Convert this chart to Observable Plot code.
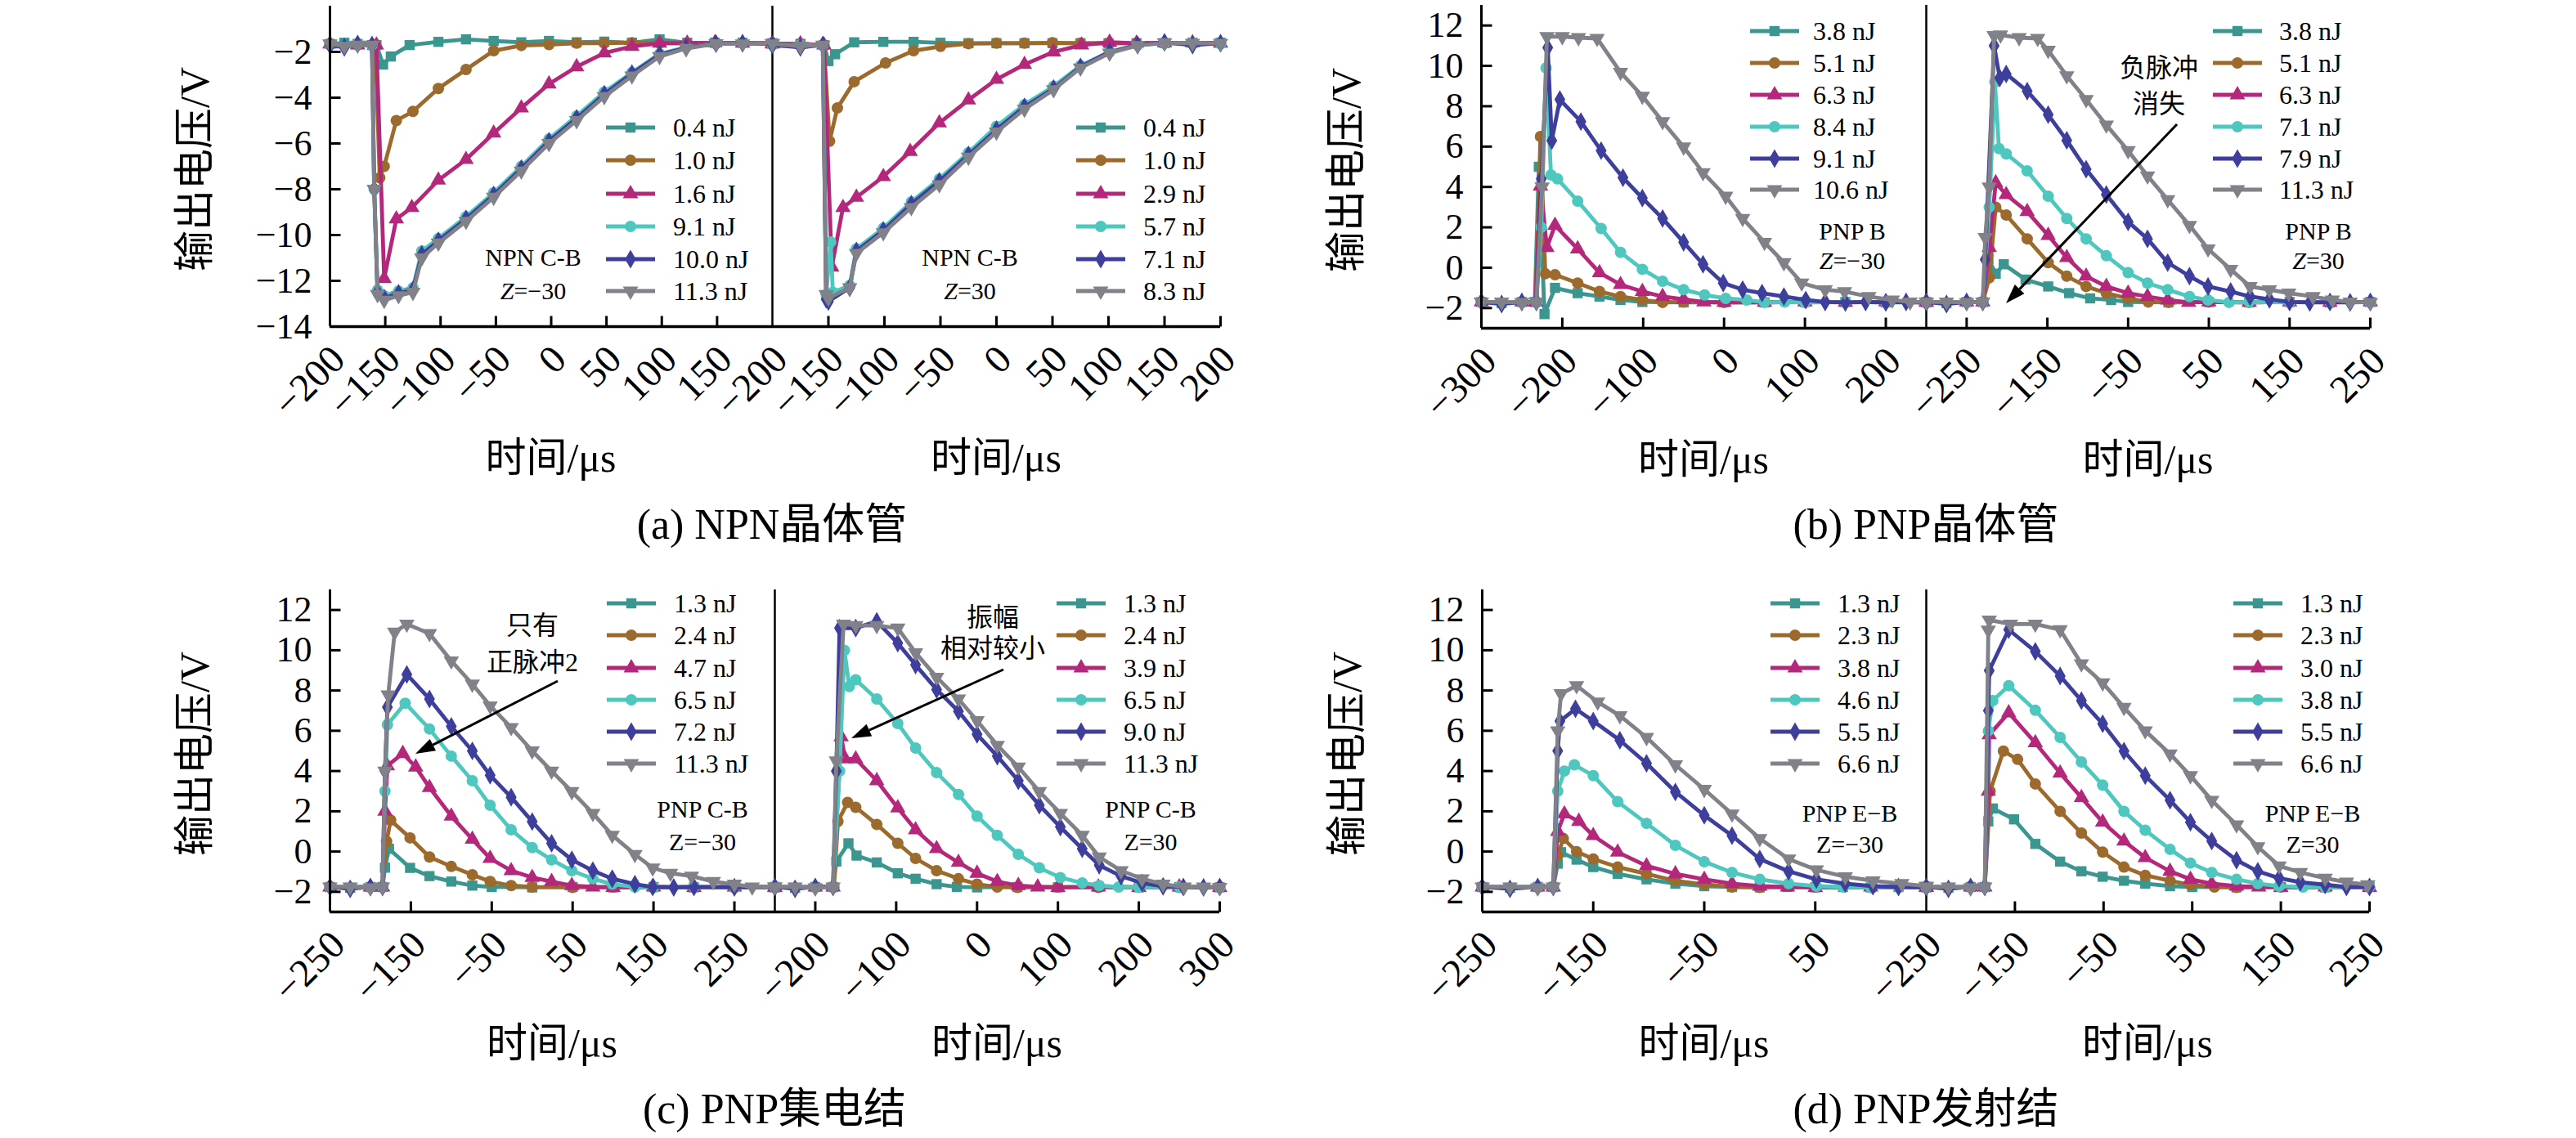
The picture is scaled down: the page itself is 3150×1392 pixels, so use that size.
<!DOCTYPE html>
<html><head><meta charset="utf-8">
<script src="https://cdn.jsdelivr.net/npm/d3@7"></script>
<script src="https://cdn.jsdelivr.net/npm/@observablehq/plot@0.6"></script>
<style>
body{margin:0;background:#fff}
#page{position:relative;width:3150px;height:1392px;background:#fff;overflow:hidden;font-family:"Liberation Serif","Times New Roman","Noto Sans CJK SC",serif;color:#000}
.abs{position:absolute;white-space:nowrap;line-height:1}
.cjk{font-family:"Liberation Serif","Noto Sans CJK SC",serif}
</style></head><body><div id="page"></div>
<script>
// ---------------- DATA ----------------
// (a) NPN, Z=-30
const aLeftLabels = ["0.4 nJ","1.0 nJ","1.6 nJ","9.1 nJ","10.0 nJ","11.3 nJ"];
const aLeftSeries = [
 [[-200,-1.65],[-187,-1.6],[-175,-1.65],[-162,-1.7],[-158,-1.7],[-152,-2.55],[-145,-2.2],[-128,-1.7],[-102,-1.56],[-77,-1.45],[-52,-1.52],[-27,-1.58],[-2,-1.52],[23,-1.58],[48,-1.55],[73,-1.6],[98,-1.45],[123,-1.6],[148,-1.6],[173,-1.6],[200,-1.62]],
 [[-200,-1.65],[-175,-1.7],[-159,-1.7],[-155,-7.5],[-151,-7.0],[-140,-5.0],[-125,-4.6],[-102,-3.6],[-77,-2.77],[-52,-1.95],[-27,-1.72],[-2,-1.68],[23,-1.62],[48,-1.62],[73,-1.6],[98,-1.62],[123,-1.62],[148,-1.62],[173,-1.62],[200,-1.62]],
 [[-200,-1.65],[-175,-1.7],[-158,-1.7],[-151,-11.9],[-140,-9.3],[-126,-8.8],[-102,-7.6],[-77,-6.7],[-52,-5.55],[-27,-4.45],[-2,-3.4],[23,-2.65],[48,-2.05],[73,-1.76],[98,-1.62],[123,-1.62],[148,-1.6],[173,-1.62],[200,-1.62]],
 [[-200,-1.7],[-175,-1.65],[-162,-1.7],[-160,-8.0],[-157,-12.4],[-151,-12.65],[-138,-12.45],[-125,-12.3],[-117,-10.7],[-102,-10.15],[-77,-9.2],[-52,-8.15],[-27,-7.0],[-2,-5.8],[23,-4.8],[48,-3.75],[73,-2.9],[98,-2.08],[122,-1.8],[149,-1.64],[173,-1.62],[200,-1.65]],
 [[-200,-1.7],[-187,-1.8],[-175,-1.65],[-162,-1.7],[-160,-8.0],[-157,-12.5],[-151,-12.75],[-138,-12.55],[-125,-12.4],[-117,-10.85],[-102,-10.25],[-77,-9.3],[-52,-8.25],[-27,-7.1],[-2,-5.9],[23,-4.9],[48,-3.85],[73,-2.95],[98,-2.12],[122,-1.82],[149,-1.64],[173,-1.62],[200,-1.65]],
 [[-200,-1.65],[-187,-1.75],[-175,-1.7],[-162,-1.7],[-160,-8.0],[-157,-12.6],[-151,-12.85],[-138,-12.65],[-125,-12.5],[-117,-11.0],[-102,-10.35],[-77,-9.4],[-52,-8.35],[-27,-7.2],[-2,-6.0],[23,-5.0],[48,-3.95],[73,-3.05],[98,-2.2],[122,-1.85],[149,-1.64],[173,-1.65],[200,-1.62]]
];
// (a) NPN, Z=30
const aRightLabels = ["0.4 nJ","1.0 nJ","2.9 nJ","5.7 nJ","7.1 nJ","8.3 nJ"];
const aRightSeries = [
 [[-200,-1.65],[-175,-1.65],[-154,-1.7],[-150,-2.4],[-144,-2.1],[-127,-1.58],[-101,-1.56],[-74,-1.56],[-50,-1.6],[-25,-1.62],[0,-1.62],[25,-1.62],[50,-1.62],[75,-1.62],[100,-1.62],[125,-1.62],[150,-1.62],[175,-1.6],[200,-1.6]],
 [[-200,-1.65],[-175,-1.65],[-154,-1.7],[-149,-5.9],[-142,-4.45],[-127,-3.3],[-99,-2.48],[-74,-1.95],[-50,-1.76],[-25,-1.64],[0,-1.62],[25,-1.62],[50,-1.6],[75,-1.62],[100,-1.62],[125,-1.62],[150,-1.62],[175,-1.62],[200,-1.62]],
 [[-200,-1.65],[-175,-1.65],[-154,-1.7],[-147,-11.4],[-137,-8.8],[-125,-8.35],[-101,-7.45],[-77,-6.35],[-51,-5.1],[-25,-4.1],[0,-3.2],[25,-2.55],[51,-2.0],[76,-1.7],[101,-1.58],[125,-1.62],[150,-1.6],[175,-1.6],[200,-1.62]],
 [[-200,-1.7],[-175,-1.7],[-155,-1.7],[-152,-12.6],[-148,-10.3],[-146,-12.5],[-131,-12.2],[-125,-10.6],[-101,-9.7],[-76,-8.55],[-51,-7.55],[-25,-6.4],[0,-5.25],[25,-4.3],[51,-3.5],[75,-2.6],[101,-2.0],[126,-1.7],[150,-1.62],[175,-1.62],[200,-1.65]],
 [[-200,-1.7],[-175,-1.8],[-155,-1.7],[-152,-12.8],[-150,-12.9],[-131,-12.3],[-125,-10.7],[-101,-9.8],[-76,-8.65],[-51,-7.65],[-25,-6.5],[0,-5.4],[25,-4.4],[51,-3.6],[75,-2.65],[101,-2.0],[126,-1.7],[150,-1.58],[175,-1.7],[200,-1.62]],
 [[-200,-1.65],[-175,-1.75],[-155,-1.7],[-152,-12.6],[-150,-12.75],[-131,-12.3],[-125,-10.8],[-101,-9.9],[-76,-8.8],[-51,-7.8],[-25,-6.6],[0,-5.5],[25,-4.5],[51,-3.65],[75,-2.7],[101,-2.05],[126,-1.72],[150,-1.6],[175,-1.62],[200,-1.62]]
];
// (b) PNP B, Z=-30
const bLeftLabels = ["3.8 nJ","5.1 nJ","6.3 nJ","8.4 nJ","9.1 nJ","10.6 nJ"];
const bLeftSeries = [
 [[-300,-1.7],[-275,-1.75],[-250,-1.7],[-234,-1.7],[-229,5.0],[-222,-2.3],[-209,-1.0],[-181,-1.26],[-154,-1.43],[-128,-1.6],[-101,-1.7],[-50,-1.72],[0,-1.72],[50,-1.72],[100,-1.7],[150,-1.7],[200,-1.72],[250,-1.72]],
 [[-300,-1.7],[-250,-1.7],[-233,-1.7],[-227,6.5],[-221,-0.3],[-209,-0.35],[-181,-0.76],[-154,-1.18],[-128,-1.43],[-101,-1.6],[-76,-1.72],[-50,-1.7],[0,-1.72],[50,-1.7],[100,-1.72],[150,-1.7],[200,-1.7],[250,-1.72]],
 [[-300,-1.7],[-250,-1.7],[-233,-1.7],[-227,4.05],[-219,1.0],[-209,2.1],[-181,0.93],[-154,-0.25],[-128,-0.84],[-101,-1.18],[-76,-1.43],[-50,-1.57],[-25,-1.7],[0,-1.72],[50,-1.72],[100,-1.7],[150,-1.72],[200,-1.7],[250,-1.72]],
 [[-300,-1.7],[-250,-1.7],[-232,-1.7],[-226,2.0],[-220,9.9],[-214,4.6],[-206,4.4],[-181,3.3],[-152,1.94],[-128,0.76],[-101,-0.08],[-76,-0.67],[-50,-1.09],[-24,-1.35],[2,-1.52],[28,-1.6],[50,-1.72],[75,-1.7],[100,-1.72],[150,-1.7],[200,-1.72],[250,-1.7]],
 [[-300,-1.7],[-275,-1.8],[-250,-1.7],[-232,-1.7],[-226,4.4],[-218,10.9],[-213,6.3],[-203,8.33],[-177,7.24],[-152,5.8],[-125,4.46],[-101,3.45],[-76,2.44],[-50,1.26],[-26,0.17],[-1,-0.76],[23,-1.09],[47,-1.26],[74,-1.43],[101,-1.6],[125,-1.7],[150,-1.72],[175,-1.7],[200,-1.72],[225,-1.7],[250,-1.72]],
 [[-300,-1.7],[-275,-1.7],[-250,-1.72],[-232,-1.7],[-225,4.0],[-219,11.45],[-200,11.45],[-180,11.4],[-157,11.36],[-128,9.68],[-101,8.5],[-76,7.24],[-50,5.98],[-26,4.71],[2,3.54],[23,2.44],[50,1.26],[74,0.25],[96,-0.76],[125,-1.09],[149,-1.18],[179,-1.43],[208,-1.6],[230,-1.7],[250,-1.7]]
];
// (b) PNP B, Z=30
const bRightLabels = ["3.8 nJ","5.1 nJ","6.3 nJ","7.1 nJ","7.9 nJ","11.3 nJ"];
const bRightSeries = [
 [[-300,-1.7],[-275,-1.75],[-250,-1.7],[-230,-1.7],[-223,0.42],[-214,-0.3],[-204,0.17],[-177,-0.59],[-149,-0.93],[-123,-1.26],[-97,-1.52],[-71,-1.6],[-50,-1.7],[0,-1.72],[50,-1.7],[100,-1.72],[150,-1.7],[200,-1.72],[250,-1.7]],
 [[-300,-1.7],[-250,-1.7],[-230,-1.7],[-222,-0.5],[-214,3.0],[-201,2.61],[-175,1.43],[-149,0.25],[-126,-0.42],[-102,-0.93],[-77,-1.26],[-50,-1.52],[-25,-1.7],[0,-1.72],[50,-1.7],[100,-1.72],[150,-1.7],[200,-1.72],[250,-1.7]],
 [[-300,-1.7],[-250,-1.7],[-230,-1.7],[-222,1.0],[-214,4.2],[-201,3.62],[-175,2.78],[-149,1.6],[-126,0.5],[-102,-0.42],[-77,-0.93],[-50,-1.26],[-26,-1.43],[-1,-1.6],[25,-1.72],[50,-1.7],[100,-1.72],[150,-1.7],[200,-1.72],[250,-1.7]],
 [[-300,-1.7],[-250,-1.7],[-230,-1.7],[-222,3.0],[-215,9.2],[-210,5.9],[-201,5.64],[-175,4.8],[-149,3.54],[-126,2.44],[-102,1.43],[-77,0.59],[-50,-0.25],[-26,-0.76],[-1,-1.09],[26,-1.43],[49,-1.6],[75,-1.72],[100,-1.7],[150,-1.72],[200,-1.7],[250,-1.72]],
 [[-300,-1.7],[-275,-1.8],[-250,-1.7],[-230,-1.7],[-227,0.4],[-216,11.0],[-209,9.4],[-201,9.6],[-175,8.75],[-149,7.58],[-126,6.31],[-102,4.88],[-77,3.62],[-50,2.27],[-26,1.43],[-1,0.25],[26,-0.42],[49,-0.93],[77,-1.18],[101,-1.43],[125,-1.57],[150,-1.7],[175,-1.72],[200,-1.7],[225,-1.72],[250,-1.7]],
 [[-300,-1.7],[-275,-1.7],[-250,-1.72],[-230,-1.7],[-227,1.5],[-222,4.0],[-216,11.5],[-208,11.53],[-185,11.4],[-162,11.36],[-149,10.77],[-126,9.51],[-102,8.33],[-77,7.07],[-50,5.8],[-26,4.55],[-1,3.37],[26,2.1],[49,0.93],[77,-0.08],[101,-0.93],[125,-1.09],[149,-1.26],[179,-1.43],[203,-1.6],[225,-1.7],[250,-1.72]]
];
// (c) PNP C-B, Z=-30
const cLeftLabels = ["1.3 nJ","2.4 nJ","4.7 nJ","6.5 nJ","7.2 nJ","11.3 nJ"];
const cLeftSeries = [
 [[-250,-1.76],[-225,-1.8],[-200,-1.76],[-185,-1.76],[-182,-0.8],[-177,0.14],[-151,-0.81],[-127,-1.22],[-100,-1.49],[-74,-1.69],[-50,-1.76],[0,-1.78],[50,-1.76],[100,-1.78],[150,-1.76],[200,-1.78],[250,-1.76],[300,-1.78]],
 [[-250,-1.76],[-200,-1.76],[-185,-1.76],[-180,0.5],[-175,1.56],[-151,0.68],[-127,-0.27],[-100,-0.74],[-74,-1.15],[-52,-1.49],[-26,-1.69],[0,-1.76],[50,-1.78],[100,-1.76],[150,-1.78],[200,-1.76],[250,-1.78],[300,-1.76]],
 [[-250,-1.76],[-200,-1.76],[-185,-1.76],[-182,2.0],[-179,4.26],[-160,4.87],[-144,4.2],[-127,3.18],[-100,1.76],[-74,0.61],[-52,-0.34],[-26,-0.95],[0,-1.29],[24,-1.49],[49,-1.69],[75,-1.76],[100,-1.78],[150,-1.76],[200,-1.78],[250,-1.76],[300,-1.78]],
 [[-250,-1.76],[-200,-1.76],[-185,-1.76],[-182,3.0],[-179,6.3],[-157,7.37],[-127,6.09],[-100,4.74],[-74,3.52],[-52,2.3],[-26,1.08],[0,0.2],[24,-0.41],[49,-0.95],[75,-1.35],[99,-1.62],[127,-1.76],[150,-1.78],[200,-1.76],[250,-1.78],[300,-1.76]],
 [[-250,-1.76],[-225,-1.85],[-200,-1.76],[-185,-1.76],[-182,4.0],[-179,7.17],[-155,8.8],[-127,7.58],[-100,6.22],[-74,5.0],[-52,3.79],[-26,2.7],[0,1.49],[24,0.41],[49,-0.41],[75,-0.95],[99,-1.35],[127,-1.62],[149,-1.76],[175,-1.78],[200,-1.76],[250,-1.78],[300,-1.76]],
 [[-250,-1.76],[-225,-1.76],[-200,-1.8],[-185,-1.76],[-182,4.0],[-178,7.78],[-170,10.9],[-155,11.3],[-127,10.83],[-100,9.47],[-74,8.32],[-52,7.24],[-26,6.16],[0,5.0],[24,4.0],[49,2.98],[75,1.9],[99,0.81],[127,-0.14],[149,-0.81],[171,-1.08],[197,-1.22],[224,-1.49],[250,-1.62],[272,-1.76],[300,-1.76]]
];
// (c) PNP C-B, Z=30
const cRightLabels = ["1.3 nJ","2.4 nJ","3.9 nJ","6.5 nJ","9.0 nJ","11.3 nJ"];
const cRightSeries = [
 [[-250,-1.76],[-225,-1.8],[-200,-1.76],[-178,-1.76],[-174,-0.5],[-159,0.41],[-149,-0.2],[-124,-0.54],[-98,-1.08],[-76,-1.35],[-50,-1.62],[-25,-1.76],[0,-1.78],[50,-1.76],[100,-1.78],[150,-1.76],[200,-1.78],[250,-1.76],[300,-1.78]],
 [[-250,-1.76],[-200,-1.76],[-177,-1.76],[-172,1.5],[-160,2.44],[-150,2.2],[-124,1.35],[-98,0.41],[-76,-0.34],[-50,-0.95],[-23,-1.35],[0,-1.62],[25,-1.76],[50,-1.78],[100,-1.76],[150,-1.78],[200,-1.76],[250,-1.78],[300,-1.76]],
 [[-250,-1.76],[-200,-1.76],[-178,-1.76],[-168,5.7],[-163,4.6],[-150,4.6],[-124,3.52],[-98,2.17],[-76,1.08],[-50,0.14],[-23,-0.54],[0,-1.08],[25,-1.49],[51,-1.69],[75,-1.76],[100,-1.78],[150,-1.76],[200,-1.78],[250,-1.76],[300,-1.78]],
 [[-250,-1.76],[-200,-1.76],[-178,-1.76],[-170,4.0],[-164,10.0],[-158,8.2],[-150,8.53],[-124,7.58],[-98,6.36],[-76,5.14],[-50,3.92],[-23,2.84],[0,1.76],[25,0.81],[51,-0.14],[77,-0.81],[103,-1.29],[130,-1.56],[151,-1.69],[175,-1.76],[200,-1.78],[250,-1.76],[300,-1.78]],
 [[-250,-1.76],[-225,-1.85],[-200,-1.76],[-178,-1.76],[-174,4.0],[-170,11.1],[-150,11.1],[-124,11.43],[-98,10.35],[-76,9.27],[-50,8.05],[-23,6.97],[0,5.82],[25,4.74],[51,3.52],[77,2.3],[103,1.22],[130,0.14],[151,-0.68],[178,-1.22],[204,-1.56],[230,-1.73],[255,-1.76],[280,-1.78],[300,-1.76]],
 [[-250,-1.76],[-225,-1.76],[-200,-1.8],[-178,-1.76],[-174,4.5],[-165,11.3],[-150,11.23],[-124,11.23],[-98,11.1],[-76,9.88],[-50,8.66],[-23,7.58],[0,6.5],[25,5.28],[51,4.2],[77,2.98],[103,1.9],[130,0.81],[151,-0.27],[178,-0.95],[204,-1.35],[230,-1.62],[256,-1.76],[280,-1.76],[300,-1.78]]
];
// (d) PNP E-B, Z=-30
const dLeftLabels = ["1.3 nJ","2.3 nJ","3.8 nJ","4.6 nJ","5.5 nJ","6.6 nJ"];
const dLeftSeries = [
 [[-250,-1.76],[-225,-1.8],[-200,-1.76],[-186,-1.76],[-182,-0.6],[-179,-0.03],[-165,-0.4],[-150,-0.77],[-128,-1.11],[-102,-1.38],[-76,-1.59],[-50,-1.72],[-25,-1.76],[0,-1.78],[25,-1.76],[50,-1.78],[75,-1.76],[100,-1.78],[125,-1.76],[150,-1.78]],
 [[-250,-1.76],[-200,-1.76],[-186,-1.76],[-182,-0.2],[-177,0.65],[-165,0.0],[-150,-0.37],[-128,-0.77],[-102,-1.11],[-76,-1.45],[-50,-1.63],[-25,-1.76],[0,-1.78],[50,-1.76],[100,-1.78],[150,-1.76]],
 [[-250,-1.76],[-200,-1.76],[-186,-1.76],[-182,1.0],[-176,1.87],[-163,1.5],[-150,0.79],[-128,-0.03],[-102,-0.71],[-76,-1.11],[-50,-1.38],[-25,-1.59],[0,-1.72],[25,-1.76],[50,-1.78],[100,-1.76],[150,-1.78]],
 [[-250,-1.76],[-200,-1.76],[-186,-1.76],[-182,3.0],[-176,4.0],[-167,4.31],[-150,3.77],[-128,2.48],[-102,1.4],[-76,0.31],[-50,-0.5],[-25,-1.04],[0,-1.38],[26,-1.59],[51,-1.72],[75,-1.76],[100,-1.78],[125,-1.76],[150,-1.78]],
 [[-250,-1.76],[-225,-1.85],[-200,-1.76],[-186,-1.76],[-182,5.0],[-180,6.48],[-166,7.09],[-150,6.48],[-126,5.53],[-102,4.38],[-76,2.96],[-50,1.8],[-25,0.79],[0,-0.37],[26,-0.98],[51,-1.38],[77,-1.59],[102,-1.72],[125,-1.76],[150,-1.78]],
 [[-250,-1.76],[-225,-1.76],[-200,-1.8],[-186,-1.76],[-182,6.0],[-179,7.84],[-165,8.24],[-146,7.43],[-126,6.75],[-102,5.67],[-76,4.31],[-50,3.09],[-25,1.87],[0,0.65],[26,-0.37],[51,-0.91],[77,-1.25],[102,-1.45],[128,-1.59],[150,-1.72]]
];
// (d) PNP E-B, Z=30
const dRightLabels = ["1.3 nJ","2.3 nJ","3.0 nJ","3.8 nJ","5.5 nJ","6.6 nJ"];
const dRightSeries = [
 [[-250,-1.76],[-225,-1.8],[-200,-1.76],[-184,-1.76],[-180,1.5],[-175,2.14],[-151,1.6],[-127,0.38],[-99,-0.5],[-75,-0.98],[-51,-1.25],[-27,-1.45],[-3,-1.59],[25,-1.72],[50,-1.76],[100,-1.78],[150,-1.76],[200,-1.78],[250,-1.76]],
 [[-250,-1.76],[-200,-1.76],[-184,-1.76],[-178,3.0],[-163,4.99],[-147,4.58],[-127,3.36],[-99,2.0],[-75,0.92],[-51,-0.03],[-27,-0.77],[-3,-1.18],[25,-1.45],[48,-1.65],[75,-1.76],[100,-1.78],[150,-1.76],[200,-1.78],[250,-1.76]],
 [[-250,-1.76],[-200,-1.76],[-184,-1.76],[-180,3.0],[-179,5.8],[-157,6.89],[-127,5.4],[-99,3.9],[-75,2.68],[-51,1.46],[-27,0.52],[-3,-0.3],[25,-0.98],[48,-1.38],[72,-1.59],[100,-1.72],[125,-1.76],[150,-1.78],[200,-1.76],[250,-1.78]],
 [[-250,-1.76],[-200,-1.76],[-184,-1.76],[-180,6.0],[-175,7.5],[-157,8.24],[-127,7.02],[-99,5.67],[-75,4.45],[-51,3.3],[-27,2.0],[-3,1.06],[25,0.11],[48,-0.57],[72,-1.04],[100,-1.38],[124,-1.59],[148,-1.72],[175,-1.76],[200,-1.78],[250,-1.76]],
 [[-250,-1.76],[-225,-1.85],[-200,-1.76],[-184,-1.76],[-180,7.0],[-179,8.99],[-157,11.02],[-127,9.94],[-99,8.72],[-75,7.5],[-51,6.35],[-27,4.99],[-3,3.77],[25,2.55],[48,1.46],[72,0.52],[100,-0.43],[124,-0.98],[148,-1.32],[172,-1.52],[200,-1.65],[224,-1.76],[250,-1.76]],
 [[-250,-1.76],[-225,-1.76],[-200,-1.8],[-184,-1.76],[-180,11.0],[-179,11.5],[-155,11.3],[-127,11.3],[-99,11.02],[-75,9.33],[-51,8.38],[-27,7.16],[-3,6.0],[25,4.85],[48,3.77],[72,2.55],[100,1.33],[124,0.24],[148,-0.71],[172,-1.04],[200,-1.32],[224,-1.52],[248,-1.65]]
];
// axes
const xDomA = [-200, 200], xDomB = [-300, 250], xDomC = [-250, 300], xDomDL = [-250, 150], xDomDR = [-250, 250];
const aLeftTicks = [-200,-150,-100,-50,0,50,100,150];
const aRightTicks = [-200,-150,-100,-50,0,50,100,150,200];
const bLeftTicks = [-300,-200,-100,0,100,200];
const bRightTicks = [-250,-150,-50,50,150,250];
const cLeftTicks = [-250,-150,-50,50,150,250];
const cRightTicks = [-200,-100,0,100,200,300];
const dLeftTicks = [-250,-150,-50,50];
const dRightTicks = [-250,-150,-50,50,150,250];
const yDomA = [-14, 0], yDomP = [-3, 13];
const yTicksA = [-2,-4,-6,-8,-10,-12,-14];
const yTicksP = [-2,0,2,4,6,8,10,12];

// ---------------- STYLE ----------------
const colors = ["#3b9690","#9c6a2c","#b4287c","#4ec8bf","#3e3f9c","#808189"];
const triDown = {draw(ctx, size){ const y = -Math.sqrt(size/(Math.sqrt(3)*3)); ctx.moveTo(0,-2*y); ctx.lineTo(-Math.sqrt(3)*y, y); ctx.lineTo(Math.sqrt(3)*y, y); ctx.closePath(); }};
const symbols = ["square","circle","triangle","circle","diamond", triDown];
const d3syms = [d3.symbolSquare, d3.symbolCircle, d3.symbolTriangle, d3.symbolCircle, d3.symbolDiamond, triDown];
const R_MARK = 7, LW = 4.8;
const vTick = {draw(ctx){ ctx.moveTo(0,0); ctx.lineTo(0,-13); }};
const hTick = {draw(ctx){ ctx.moveTo(0,0); ctx.lineTo(13,0); }};
const serif = '"Liberation Serif","Times New Roman","Noto Sans CJK SC",serif';
const fmt = d3.format("d");
const page = document.getElementById("page");

function makePanel(p) {
  const mL = p.left ? 170 : 0, mR = p.left ? 0 : 70, mT = 12, mB = 170;
  const x0 = p.left ? p.L : p.D, x1 = p.left ? p.D : p.R;
  const ymin = p.ydom[0];
  const marks = [];
  p.series.forEach((pts, i) => {
    marks.push(Plot.line(pts, {x: d => d[0], y: d => d[1], stroke: colors[i], strokeWidth: LW, strokeLinejoin: "round"}));
    marks.push(Plot.dot(pts, {x: d => d[0], y: d => d[1], symbol: symbols[i], fill: colors[i], r: R_MARK}));
  });
  marks.push(Plot.ruleY([ymin], {stroke: "black", strokeWidth: 3.5}));
  if (p.left) {
    marks.push(Plot.ruleX([p.xdom[0]], {stroke: "black", strokeWidth: 3}));
    marks.push(Plot.ruleX([p.xdom[1]], {stroke: "black", strokeWidth: 2.5}));
    marks.push(Plot.dot(p.yticks.filter(v => v > ymin), {x: () => p.xdom[0], y: d => d, symbol: hTick, fill: "none", stroke: "black", strokeWidth: 3}));
    marks.push(Plot.axisY(p.yticks, {tickSize: 0, tickPadding: 22, tickFormat: fmt, label: null, fontSize: 44}));
  }
  marks.push(Plot.dot(p.ticks.filter(t => t > p.xdom[0]), {x: d => d, y: () => ymin, symbol: vTick, fill: "none", stroke: "black", strokeWidth: 3}));
  marks.push(Plot.axisX(p.ticks, {tickSize: 0, tickPadding: 32, tickRotate: -45, textAnchor: "end", lineAnchor: "middle", dx: 10, tickFormat: fmt, label: null, fontSize: 48}));
  const svg = Plot.plot({
    width: (x1 - x0) + mL + mR, height: (p.B - p.T) + mT + mB,
    marginLeft: mL, marginRight: mR, marginTop: mT, marginBottom: mB,
    x: {domain: p.xdom}, y: {domain: p.ydom, axis: p.left ? undefined : null},
    style: {fontFamily: serif, fontSize: "48px", color: "black", background: "transparent", overflow: "visible"},
    marks
  });
  svg.style.position = "absolute";
  svg.style.left = (x0 - mL) + "px";
  svg.style.top = (p.T - mT) + "px";
  page.appendChild(svg);
}

function text(html, x, y, fs, cls = "", anchor = "center", rot = "") {
  const d = document.createElement("div");
  d.className = "abs " + cls;
  d.innerHTML = html;
  d.style.left = x + "px"; d.style.top = y + "px"; d.style.fontSize = fs + "px";
  d.style.transform = (anchor === "center" ? "translate(-50%,-50%)" : "translate(0,-50%)") + rot;
  page.appendChild(d);
}

function legend(labels, lineX, textX, rows) {
  labels.forEach((lab, i) => {
    const y = rows[i];
    const s = d3.create("svg").attr("width", 64).attr("height", 28)
      .style("position", "absolute").style("left", (lineX - 2) + "px").style("top", (y - 14) + "px").style("overflow", "visible");
    s.append("line").attr("x1", 2).attr("x2", 62).attr("y1", 14).attr("y2", 14).attr("stroke", colors[i]).attr("stroke-width", LW);
    s.append("path").attr("d", d3.symbol(d3syms[i], R_MARK * R_MARK * Math.PI)()).attr("transform", "translate(32,14)").attr("fill", colors[i]);
    page.appendChild(s.node());
    text(lab, textX, y, 32, "", "left");
  });
}

const rowsA = [156,196,237,277,317,356], rowsB = [38,77,116,155,194,232], rowsCD = [738,777,817,856,895,934];
const panels = [
  {series: aLeftSeries, labels: aLeftLabels, xdom: xDomA, ticks: aLeftTicks, left: true, L: 403, D: 944, R: 1492, T: 7, B: 399, ydom: yDomA, yticks: yTicksA, lg: [741, 823, rowsA], dev: ["NPN C-B", "<i>Z</i>=−30", 652, 315, 356]},
  {series: aRightSeries, labels: aRightLabels, xdom: xDomA, ticks: aRightTicks, left: false, L: 403, D: 944, R: 1492, T: 7, B: 399, ydom: yDomA, yticks: yTicksA, lg: [1316, 1398, rowsA], dev: ["NPN C-B", "<i>Z</i>=30", 1186, 315, 356]},
  {series: bLeftSeries, labels: bLeftLabels, xdom: xDomB, ticks: bLeftTicks, left: true, L: 1811, D: 2355, R: 2898, T: 6, B: 401, ydom: yDomP, yticks: yTicksP, lg: [2140, 2217, rowsB], dev: ["PNP B", "<i>Z</i>=−30", 2265, 283, 319]},
  {series: bRightSeries, labels: bRightLabels, xdom: xDomB, ticks: bRightTicks, left: false, L: 1811, D: 2355, R: 2898, T: 6, B: 401, ydom: yDomP, yticks: yTicksP, lg: [2706, 2787, rowsB], dev: ["PNP B", "<i>Z</i>=30", 2835, 283, 319]},
  {series: cLeftSeries, labels: cLeftLabels, xdom: xDomC, ticks: cLeftTicks, left: true, L: 403, D: 947, R: 1491, T: 721, B: 1115, ydom: yDomP, yticks: yTicksP, lg: [742, 824, rowsCD], dev: ["PNP C-B", "Z=−30", 859, 990, 1030]},
  {series: cRightSeries, labels: cRightLabels, xdom: xDomC, ticks: cRightTicks, left: false, L: 403, D: 947, R: 1491, T: 721, B: 1115, ydom: yDomP, yticks: yTicksP, lg: [1292, 1374, rowsCD], dev: ["PNP C-B", "Z=30", 1407, 990, 1030]},
  {series: dLeftSeries, labels: dLeftLabels, xdom: xDomDL, ticks: dLeftTicks, left: true, L: 1812, D: 2355, R: 2897, T: 721, B: 1115, ydom: yDomP, yticks: yTicksP, lg: [2165, 2247, rowsCD], dev: ["PNP E−B", "Z=−30", 2262, 995, 1033]},
  {series: dRightSeries, labels: dRightLabels, xdom: xDomDR, ticks: dRightTicks, left: false, L: 1812, D: 2355, R: 2897, T: 721, B: 1115, ydom: yDomP, yticks: yTicksP, lg: [2731, 2813, rowsCD], dev: ["PNP E−B", "Z=30", 2828, 995, 1033]}
];
panels.forEach(p => {
  makePanel(p);
  legend(p.labels, p.lg[0], p.lg[1], p.lg[2]);
  text(p.dev[0], p.dev[2], p.dev[3], 30);
  text(p.dev[1], p.dev[2], p.dev[4], 30);
  const x0 = p.left ? p.L : p.D, x1 = p.left ? p.D : p.R;
  text("时间/μs", (x0 + x1) / 2, p.B + 161, 50, "cjk");
  if (p.left) text("输出电压/V", p.L - 165, (p.T + p.B) / 2 + 4, 50, "cjk", "center", " rotate(-90deg)");
});
const captions = [["(a) NPN晶体管", 944, 642], ["(b) PNP晶体管", 2355, 642], ["(c) PNP集电结", 947, 1357], ["(d) PNP发射结", 2355, 1357]];
captions.forEach(c => text(c[0], c[1], c[2], 52, "cjk"));

// annotations
text("负脉冲", 2640, 83, 32, "cjk");
text("消失", 2640, 127, 32, "cjk");
text("只有", 651, 765, 32, "cjk");
text("正脉冲2", 651, 810, 32, "cjk");
text("振幅", 1214, 755, 32, "cjk");
text("相对较小", 1214, 793, 32, "cjk");
const arrows = [[2662, 152, 2453, 371], [682, 833, 508, 922], [1227, 819, 1041, 903]];
const ov = d3.create("svg").attr("width", 3150).attr("height", 1392).style("position", "absolute").style("left", "0px").style("top", "0px");
arrows.forEach(([x1, y1, x2, y2]) => {
  const a = Math.atan2(y2 - y1, x2 - x1), hl = 24, hw = 8;
  const bx = x2 - hl * Math.cos(a), by = y2 - hl * Math.sin(a);
  ov.append("line").attr("x1", x1).attr("y1", y1).attr("x2", bx).attr("y2", by).attr("stroke", "black").attr("stroke-width", 3);
  ov.append("polygon").attr("points", `${x2},${y2} ${bx + hw * Math.sin(a)},${by - hw * Math.cos(a)} ${bx - hw * Math.sin(a)},${by + hw * Math.cos(a)}`).attr("fill", "black");
});
page.appendChild(ov.node());
</script></body></html>
